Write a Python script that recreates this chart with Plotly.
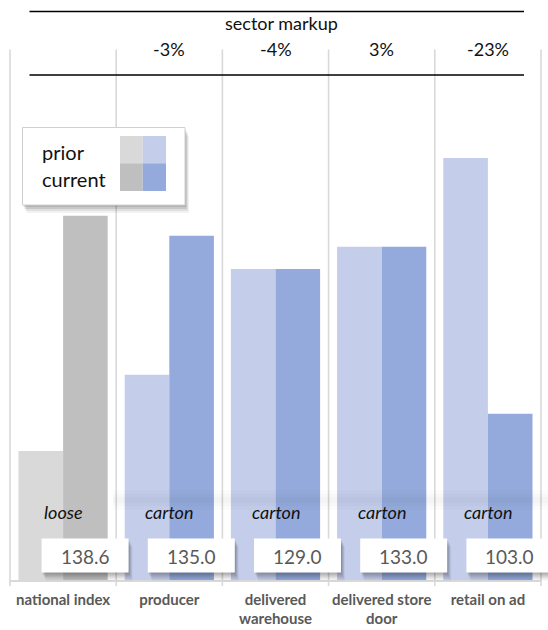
import plotly.graph_objects as go

categories = ["national index", "producer", "delivered warehouse", "delivered store door", "retail on ad"]
tick_labels = ["national index", "producer", "delivered<br>warehouse", "delivered store<br>door", "retail on ad"]
prior_values = [96.3, 110.0, 129.0, 133.0, 149.0]
current_values = [138.6, 135.0, 129.0, 133.0, 103.0]
pack_labels = ["loose", "carton", "carton", "carton", "carton"]
markup_labels = ["", "-3%", "-4%", "3%", "-23%"]

prior_colors = ["#D9D9D9", "#C4CEEB", "#C4CEEB", "#C4CEEB", "#C4CEEB"]
current_colors = ["#BFBFBF", "#94AADC", "#94AADC", "#94AADC", "#94AADC"]

W, H = 548, 630
L, R, T, B = 10, 541, 50, 580
FONT = "Lato"


def px(x):
    return (x - L) / (R - L)


def py(y):
    return (B - y) / (B - T)


n = len(categories)
fig = go.Figure()
fig.add_trace(go.Bar(x=categories, y=prior_values, name="prior",
                     marker=dict(color=prior_colors, line=dict(width=0)),
                     hoverinfo="skip"))
fig.add_trace(go.Bar(x=categories, y=current_values, name="current",
                     marker=dict(color=current_colors, line=dict(width=0)),
                     hoverinfo="skip"))

shapes = []
annotations = []

# vertical boundary lines
for k in range(n + 1):
    xp = k / n
    shapes.append(dict(type="line", xref="paper", yref="paper", x0=xp, x1=xp,
                       y0=py(49.5), y1=py(586), line=dict(color="#D9D9D9", width=1.6),
                       layer="below"))

# very faint soft shadow band across the label row
for (a, b, op) in [(490, 510, 0.012), (494, 506, 0.015), (497, 503, 0.015)]:
    shapes.append(dict(type="rect", xref="paper", yref="paper", x0=px(113), x1=px(548),
                       y0=py(a), y1=py(b), fillcolor="rgba(0,0,0,%s)" % op, line=dict(width=0)))

# header lines
for yy in (11.5, 75):
    shapes.append(dict(type="line", xref="paper", yref="paper", x0=px(29.5), x1=px(524),
                       y0=py(yy), y1=py(yy), line=dict(color="#000000", width=1.3)))

annotations.append(dict(text="sector markup", xref="paper", yref="paper", x=px(281), y=py(22.5),
                        showarrow=False, font=dict(family=FONT, size=18, color="#111111"),
                        xanchor="center", yanchor="middle"))
for i, lab in enumerate(markup_labels):
    if lab:
        annotations.append(dict(text=lab, xref="x", yref="paper", x=categories[i], y=py(48.5),
                                showarrow=False, font=dict(family=FONT, size=18, color="#111111"),
                                xanchor="center", yanchor="middle"))

# pack labels
for i, lab in enumerate(pack_labels):
    annotations.append(dict(text="<i>%s</i>" % lab, xref="x", yref="paper", x=categories[i], y=py(512),
                            showarrow=False, font=dict(family=FONT, size=18, color="#111111"),
                            xanchor="center", yanchor="middle"))

# value boxes with shadow
bw, bh = 87, 34
for i, v in enumerate(current_values):
    cx = L + (i + 0.5) * (R - L) / n + 22
    x0, x1 = cx - bw / 2, cx + bw / 2
    y0, y1 = 538.5, 572.5
    for (dx, dy, op) in [(1, 2, 0.10), (2, 4, 0.10), (3, 6, 0.08), (4, 8, 0.05)]:
        shapes.append(dict(type="rect", xref="paper", yref="paper",
                           x0=px(x0 + dx), x1=px(x1 + dx), y0=py(y0 + dy), y1=py(y1 + dy),
                           fillcolor="rgba(0,0,0,%s)" % op, line=dict(width=0)))
    shapes.append(dict(type="rect", xref="paper", yref="paper",
                       x0=px(x0), x1=px(x1), y0=py(y0), y1=py(y1),
                       fillcolor="#FFFFFF", line=dict(width=0)))
    annotations.append(dict(text="%.1f" % v, xref="paper", yref="paper", x=px(cx), y=py(556),
                            showarrow=False, font=dict(family=FONT, size=19, color="#595959"),
                            xanchor="center", yanchor="middle"))

# legend box
lx0, lx1, ly0, ly1 = 22.5, 185, 127.5, 205
for (dx, dy, op) in [(1, 2, 0.10), (2, 4, 0.10), (3, 6, 0.08), (4, 8, 0.05)]:
    shapes.append(dict(type="rect", xref="paper", yref="paper",
                       x0=px(lx0 + dx), x1=px(lx1 + dx), y0=py(ly0 + dy), y1=py(ly1 + dy),
                       fillcolor="rgba(0,0,0,%s)" % op, line=dict(width=0)))
shapes.append(dict(type="rect", xref="paper", yref="paper",
                   x0=px(lx0), x1=px(lx1), y0=py(ly0), y1=py(ly1),
                   fillcolor="#FFFFFF", line=dict(color="#D0D0D0", width=1)))
sq = [(120, 142.7, 136, 163.3, prior_colors[0]), (142.7, 166, 136, 163.3, prior_colors[1]),
      (120, 142.7, 163.3, 191, current_colors[0]), (142.7, 166, 163.3, 191, current_colors[1])]
for (a, b, c, d, col) in sq:
    shapes.append(dict(type="rect", xref="paper", yref="paper",
                       x0=px(a), x1=px(b), y0=py(c), y1=py(d),
                       fillcolor=col, line=dict(width=0)))
for lab, yy in (("prior", 151.5), ("current", 178.5)):
    annotations.append(dict(text=lab, xref="paper", yref="paper", x=px(40), y=py(yy),
                            showarrow=False, font=dict(family=FONT, size=20, color="#111111"),
                            xanchor="left", yanchor="middle"))

fig.update_layout(
    width=W, height=H,
    margin=dict(l=L, r=W - R, t=T, b=H - B, pad=0, autoexpand=False),
    paper_bgcolor="#FFFFFF", plot_bgcolor="#FFFFFF",
    barmode="group", bargap=0.16, bargroupgap=0,
    showlegend=False,
    shapes=shapes, annotations=annotations,
    xaxis=dict(type="category", tickmode="array", tickvals=categories,
               ticktext=["<b>%s</b>" % t for t in tick_labels],
               tickfont=dict(family=FONT, size=15, color="#595959"),
               showgrid=False, showline=True, linecolor="#D9D9D9", linewidth=1.5,
               ticks="", ticklabelstandoff=5, automargin=False,
               range=[-0.5, n - 0.5], fixedrange=True),
    yaxis=dict(range=[73.1, 168.4], visible=False, showgrid=False, zeroline=False,
               automargin=False, fixedrange=True),
)

fig.write_html("out.html", config={"displayModeBar": False})
